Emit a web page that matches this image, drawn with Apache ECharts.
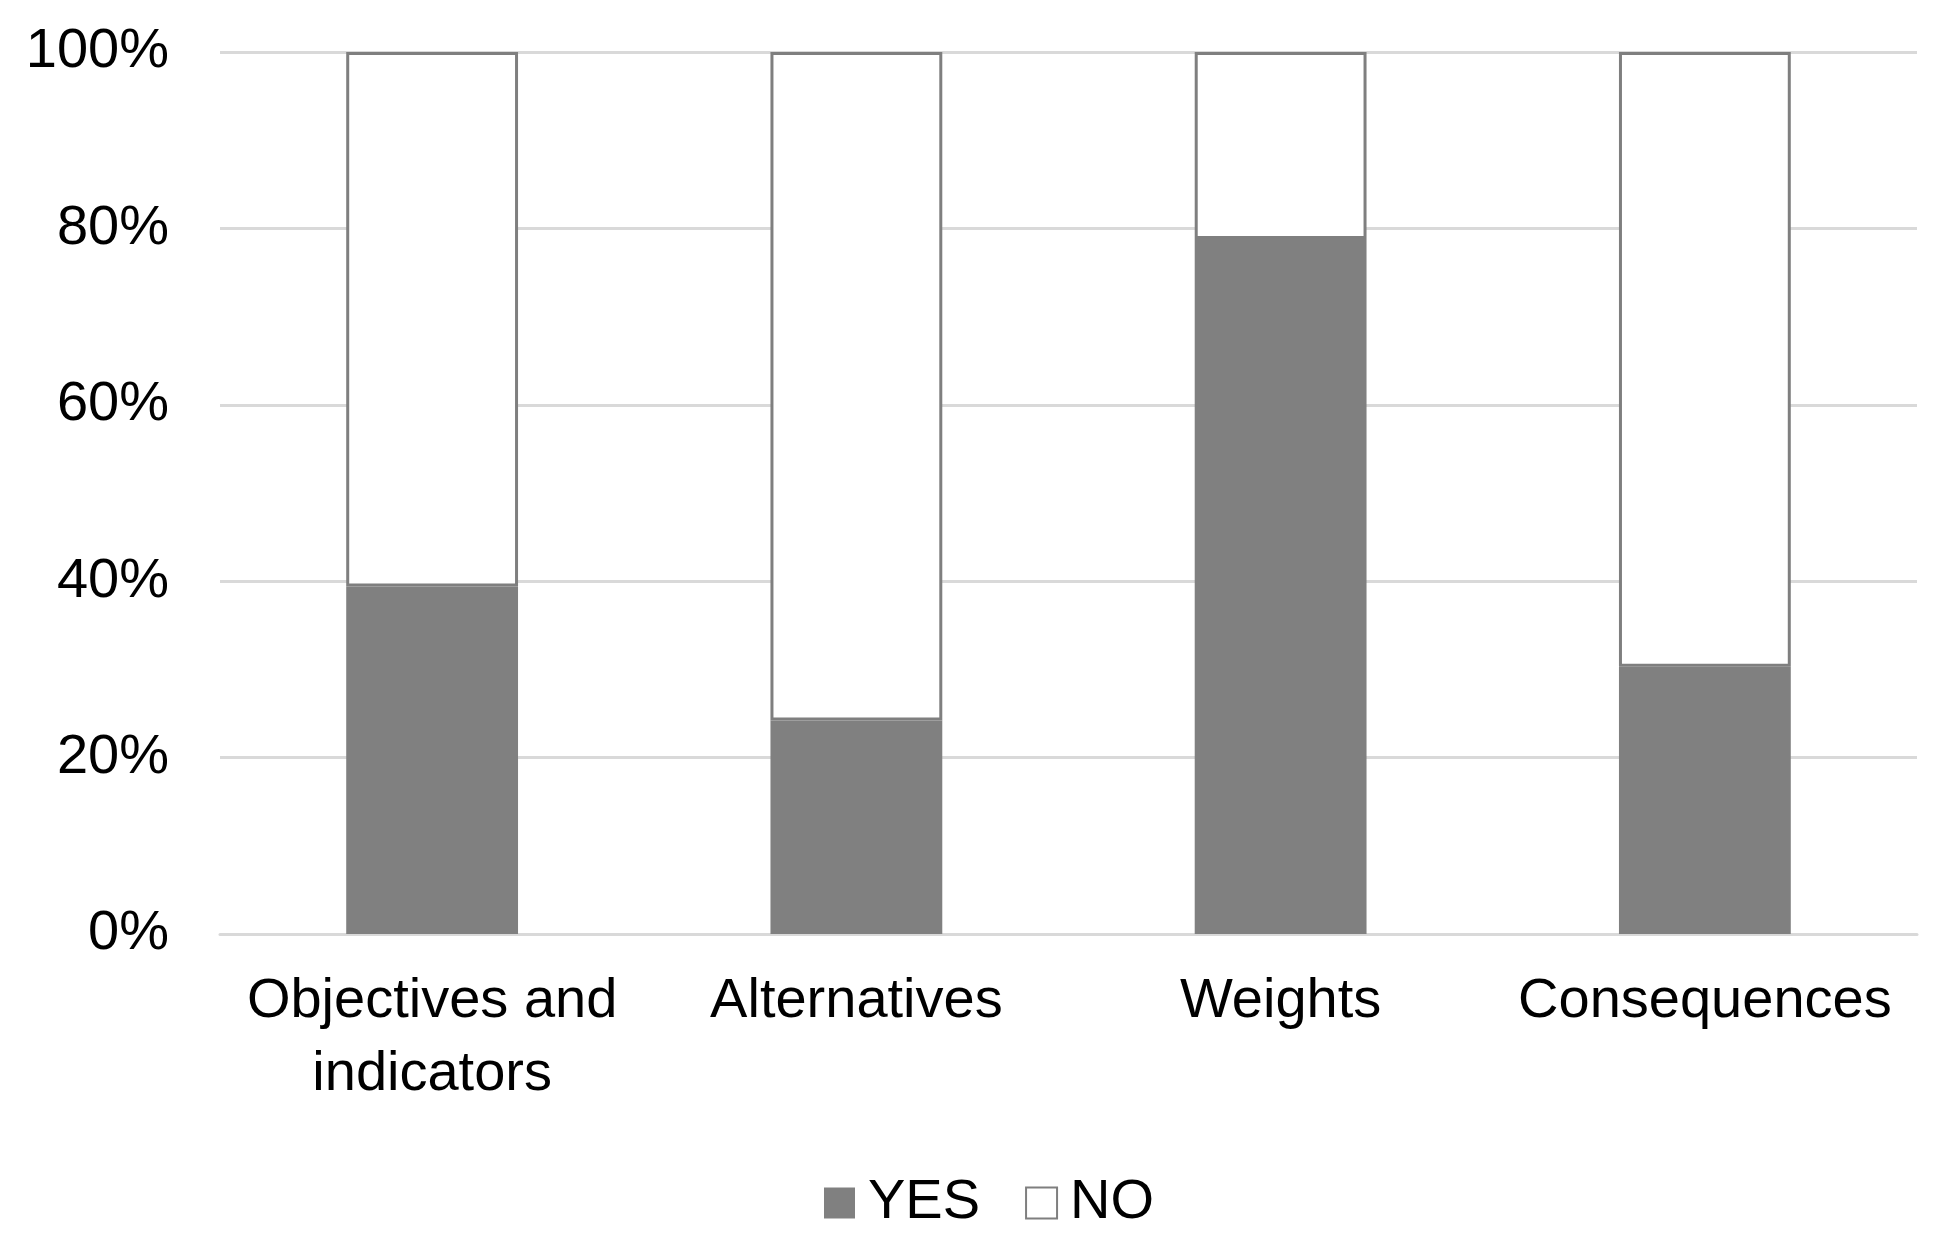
<!DOCTYPE html>
<html>
<head>
<meta charset="utf-8">
<script src="https://cdn.jsdelivr.net/npm/echarts@6/dist/echarts.min.js"></script>
<style>
html,body{margin:0;padding:0;background:#fff;}
#chart{width:1935px;height:1251px;}
</style>
</head>
<body>
<div id="chart"></div>
<script>
const categories = ['Objectives and\nindicators', 'Alternatives', 'Weights', 'Consequences'];
const yesValues = [39.4, 24.2, 78.8, 30.3];
const noValues = [60.6, 75.8, 21.2, 69.7];
const seriesNames = ['YES', 'NO'];
const yTicks = [0, 20, 40, 60, 80, 100];

const FONT = '"Liberation Sans", Arial, sans-serif';
const chart = echarts.init(document.getElementById('chart'));
chart.setOption({
  animation: false,
  backgroundColor: '#ffffff',
  grid: { left: 220, right: 18, top: 52, bottom: 317, containLabel: false },
  legend: {
    data: seriesNames,
    left: 819,
    top: 1170,
    itemWidth: 31,
    itemHeight: 31,
    itemGap: 45,
    icon: 'rect',
    textStyle: { fontFamily: FONT, fontSize: 56, color: '#000', padding: [0, 0, 0, 8] }
  },
  xAxis: {
    type: 'category',
    data: categories,
    axisLine: { show: true, lineStyle: { color: '#d9d9d9', width: 3 } },
    axisTick: { show: false },
    axisLabel: {
      interval: 0,
      margin: 31,
      fontFamily: FONT,
      fontSize: 56,
      lineHeight: 73,
      color: '#000'
    }
  },
  yAxis: {
    type: 'value',
    min: 0,
    max: 100,
    interval: 20,
    axisLine: { show: false },
    axisTick: { show: false },
    splitLine: { lineStyle: { color: '#d9d9d9', width: 3 } },
    axisLabel: {
      margin: 51,
      fontFamily: FONT,
      fontSize: 56,
      color: '#000',
      formatter: function (v) { return yTicks.indexOf(v) >= 0 ? v + '%' : ''; }
    }
  },
  series: [
    {
      name: seriesNames[0],
      type: 'bar',
      stack: 'total',
      data: yesValues,
      barCategoryGap: '59.5%',
      itemStyle: { color: '#808080' }
    },
    {
      name: seriesNames[1],
      type: 'bar',
      stack: 'total',
      data: noValues,
      barCategoryGap: '59.5%',
      itemStyle: { color: '#ffffff', borderColor: '#7f7f7f', borderWidth: 3 }
    }
  ]
});
</script>
</body>
</html>
